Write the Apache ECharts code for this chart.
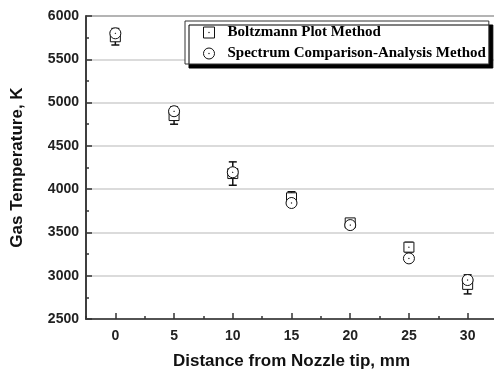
<!DOCTYPE html>
<html>
<head>
<meta charset="utf-8">
<script src="https://cdn.jsdelivr.net/npm/echarts@6/dist/echarts.min.js"></script>
<style>
	html, body { margin: 0; padding: 0; background: #fff; }
	#chart { width: 494px; height: 369px; }
</style>
</head>
<body>
<div id="chart"></div>
<script>
// values
const distance = [0, 5, 10, 15, 20, 25, 30]
const boltzmann = [5760, 4850, 4180, 3900, 3610, 3330, 2900]
const boltzmannErr = [95, 100, 135, 70, 40, 55, 110]
const spectrum = [5800, 4900, 4195, 3840, 3585, 3200, 2950]
const xTicks = [0, 5, 10, 15, 20, 25, 30]

const sans = 'Liberation Sans'
const serif = 'Liberation Serif'
const ink = '#222'

const squareIcon = 'path://M0,0H10V10H0Z M4.8,4.8H5.2V5.2H4.8Z'
const circleIcon = 'path://M5,0A5,5,0,1,1,5,10A5,5,0,1,1,5,0Z M4.8,4.8H5.2V5.2H4.8Z'

const chart = echarts.init(document.getElementById('chart'))

chart.setOption({
	animation: false,
	backgroundColor: '#fff',
	grid: {
		left: 86,
		top: 16,
		bottom: 50,
		width: 411,
		outerBoundsMode: 'none',
		show: true,
		borderColor: '#333',
		borderWidth: 1.5,
	},
	legend: {
		orient: 'vertical',
		left: 185,
		top: 21,
		padding: [4, 3, 3, 18],
		itemWidth: 11,
		itemHeight: 11,
		itemGap: 6,
		backgroundColor: '#fff',
		borderColor: '#333',
		borderWidth: 1,
		shadowColor: '#000',
		shadowBlur: 0,
		shadowOffsetX: 4,
		shadowOffsetY: 4,
		itemStyle: { borderWidth: 1 },
		textStyle: { fontFamily: serif, fontWeight: 'bold', fontSize: 15, color: '#000', padding: [0, 0, 0, 8] },
		data: ['Boltzmann Plot Method', 'Spectrum Comparison-Analysis Method'],
	},
	xAxis: [{
		type: 'value',
		min: -2.5,
		max: 32.5,
		interval: 2.5,
		name: 'Distance from Nozzle tip, mm',
		nameLocation: 'middle',
		nameGap: 34,
		nameTextStyle: { fontFamily: sans, fontWeight: 'bold', fontSize: 17, color: '#111' },
		axisLine: { onZero: false, lineStyle: { color: '#333', width: 1.5 } },
		axisTick: { inside: true, length: 3, lineStyle: { color: '#333', width: 1.5 } },
		axisLabel: {
			margin: 10,
			fontFamily: sans, fontWeight: 'bold', fontSize: 14, color: ink,
			formatter: v => (xTicks.indexOf(v) >= 0 ? String(v) : ''),
		},
		splitLine: { show: false },
	}, {
		type: 'value',
		position: 'bottom',
		min: -2.5,
		max: 32.5,
		axisLine: { show: false, onZero: false },
		axisTick: { inside: true, length: 6, customValues: xTicks, lineStyle: { color: '#333', width: 1.5 } },
		axisLabel: { show: false },
		splitLine: { show: false },
	}],
	yAxis: {
		type: 'value',
		min: 2500,
		max: 6000,
		interval: 500,
		name: 'Gas Temperature, K',
		nameLocation: 'middle',
		nameRotate: 90,
		nameGap: 60,
		nameTextStyle: { fontFamily: sans, fontWeight: 'bold', fontSize: 17, color: '#111' },
		axisLine: { show: true, onZero: false, lineStyle: { color: '#333', width: 1.5 } },
		axisTick: { show: true, inside: true, length: 6, lineStyle: { color: '#333', width: 1.5 } },
		minorTick: { show: true, splitNumber: 2, length: 3, lineStyle: { color: '#333', width: 1.5 } },
		axisLabel: { margin: 7, fontFamily: sans, fontWeight: 'bold', fontSize: 14, color: ink, formatter: v => String(v) },
		splitLine: { lineStyle: { color: '#cfcfcf', width: 1.5 } },
	},
	series: [{
		name: 'errors',
		type: 'custom',
		z: 1,
		data: distance.map((d, i) => [d, boltzmann[i] - boltzmannErr[i], boltzmann[i] + boltzmannErr[i]]),
		renderItem: (params, api) => {
			const lo = api.coord([api.value(0), api.value(1)])
			const hi = api.coord([api.value(0), api.value(2)])
			const half = 4
			const style = { stroke: '#111', lineWidth: 1.5 }
			return {
				type: 'group',
				children: [
					{ type: 'line', shape: { x1: lo[0], y1: lo[1], x2: hi[0], y2: hi[1] }, style },
					{ type: 'line', shape: { x1: lo[0] - half, y1: lo[1], x2: lo[0] + half, y2: lo[1] }, style },
					{ type: 'line', shape: { x1: hi[0] - half, y1: hi[1], x2: hi[0] + half, y2: hi[1] }, style },
				],
			}
		},
	}, {
		name: 'Boltzmann Plot Method',
		type: 'scatter',
		z: 2,
		symbol: squareIcon,
		symbolSize: 10,
		itemStyle: { color: '#fff', borderColor: '#111', borderWidth: 1, opacity: 1 },
		data: distance.map((d, i) => [d, boltzmann[i]]),
	}, {
		name: 'Spectrum Comparison-Analysis Method',
		type: 'scatter',
		z: 3,
		symbol: circleIcon,
		symbolSize: 11,
		itemStyle: { color: '#fff', borderColor: '#111', borderWidth: 1, opacity: 1 },
		data: distance.map((d, i) => [d, spectrum[i]]),
	}],
})
</script>
</body>
</html>
